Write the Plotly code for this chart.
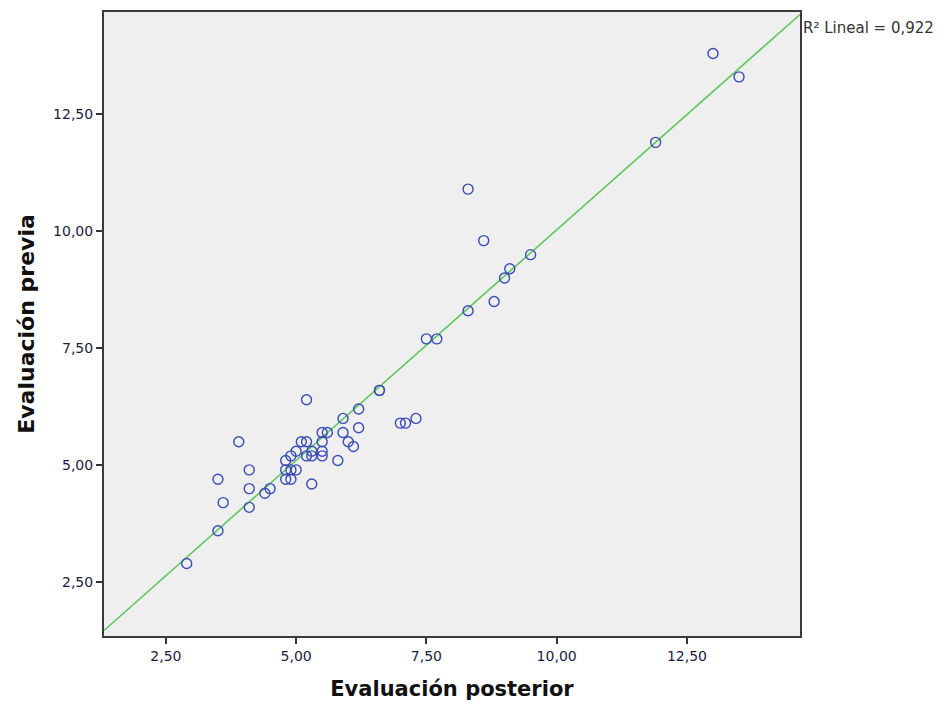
import numpy as np
import plotly.graph_objects as go

# Data
eval_posterior = [2.9, 3.5, 3.6, 3.5, 3.9, 4.1, 4.1, 4.1, 4.4, 4.5,
                  4.8, 4.8, 4.9, 4.8, 4.9, 4.9, 5.0, 5.0, 5.1, 5.2, 5.2, 5.3, 5.3, 5.5, 5.5, 5.5, 5.5, 5.6,
                  5.2, 5.3, 5.8, 5.9, 5.9, 6.0, 6.1, 6.2, 6.2, 6.6, 6.6, 7.0, 7.1, 7.3,
                  7.5, 7.7, 8.3, 8.8, 9.0, 9.1, 9.5, 8.6, 8.3, 11.9, 13.0, 13.5]
eval_previa = [2.9, 3.6, 4.2, 4.7, 5.5, 4.9, 4.5, 4.1, 4.4, 4.5,
               5.1, 4.9, 4.9, 4.7, 4.7, 5.2, 5.3, 4.9, 5.5, 5.5, 5.2, 5.2, 5.3, 5.5, 5.3, 5.2, 5.7, 5.7,
               6.4, 4.6, 5.1, 6.0, 5.7, 5.5, 5.4, 6.2, 5.8, 6.6, 6.6, 5.9, 5.9, 6.0,
               7.7, 7.7, 8.3, 8.5, 9.0, 9.2, 9.5, 9.8, 10.9, 11.9, 13.8, 13.3]
tick_vals = [2.5, 5.0, 7.5, 10.0, 12.5]
r2_label = "R² Lineal = 0,922"
x_range = [1.313, 14.67]
y_range = [1.35, 14.686]

slope, intercept = np.polyfit(eval_posterior, eval_previa, 1)
line_x = np.array(x_range)
line_y = intercept + slope * line_x

fig = go.Figure()
fig.add_trace(go.Scatter(
    x=line_x, y=line_y, mode="lines",
    line=dict(color="#5ec85e", width=1.6),
    hoverinfo="skip", showlegend=False))
fig.add_trace(go.Scatter(
    x=eval_posterior, y=eval_previa, mode="markers",
    marker=dict(symbol="circle-open", size=10, color="#3a4cb5",
                line=dict(width=1.4, color="#3a4cb5")),
    showlegend=False))

axis_common = dict(
    tickvals=tick_vals, tickformat=".2f",
    showgrid=False, zeroline=False,
    showline=True, mirror=True, linecolor="#3a3a3a", linewidth=2,
    ticks="outside", ticklen=6, tickwidth=2, tickcolor="#333333",
    tickfont=dict(family="DejaVu Sans", size=14, color="#1c1c40"),
)

fig.update_layout(
    width=946, height=707,
    margin=dict(l=104, r=146, t=10, b=69),
    paper_bgcolor="white", plot_bgcolor="#efefef",
    separators=",.",
    xaxis=dict(range=x_range, title=dict(text="<b>Evaluación posterior</b>",
               font=dict(family="DejaVu Sans", size=21, color="#111111"), standoff=19),
               **axis_common),
    yaxis=dict(range=y_range, title=dict(text="<b>Evaluación previa</b>",
               font=dict(family="DejaVu Sans", size=22, color="#111111"), standoff=12),
               **axis_common),
    annotations=[dict(
        text=r2_label, xref="paper", yref="paper", x=1.0, y=1.0,
        xanchor="left", yanchor="top", xshift=1, yshift=-5, showarrow=False,
        font=dict(family="DejaVu Sans", size=15, color="#333333"))],
)

fig.write_html("out.html", config={"displayModeBar": False},
               post_script="document.body.style.margin='0';")
